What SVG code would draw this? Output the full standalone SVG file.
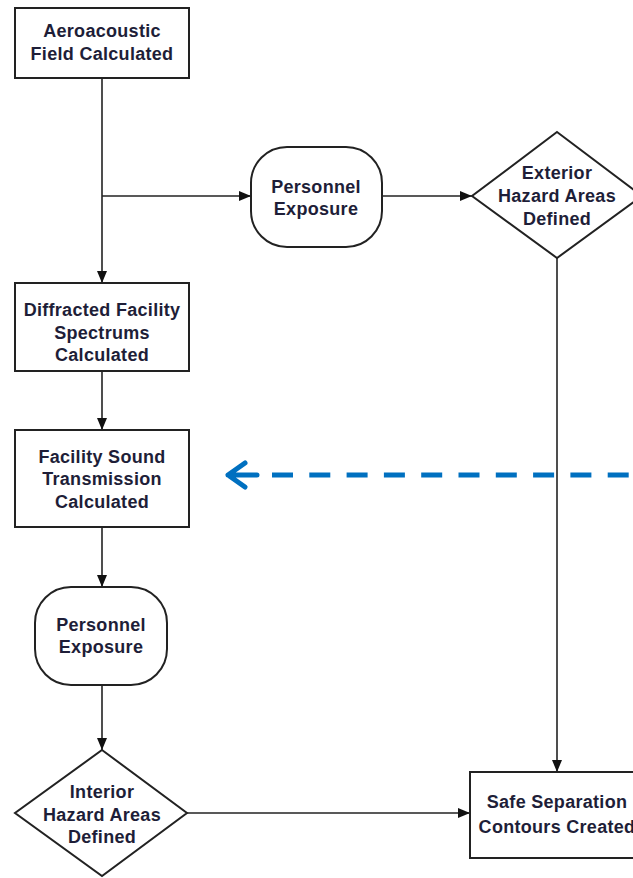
<svg xmlns="http://www.w3.org/2000/svg" width="633" height="878" viewBox="0 0 633 878">
<style>
.shape{fill:#fff;stroke:#222;stroke-width:2}
.t{font-family:"Liberation Sans",Arial,sans-serif;font-weight:bold;font-size:18px;fill:#1e1e38;text-anchor:middle;letter-spacing:0.3px}
.ln{fill:none;stroke:#222;stroke-width:1.6}
.blue{fill:none;stroke:#0070C0;stroke-width:5}
</style>
<defs>
<marker id="ah" markerWidth="12" markerHeight="10" refX="12" refY="5" orient="auto" markerUnits="userSpaceOnUse">
<path d="M0,0 L12,5 L0,10 Z" fill="#111"/>
</marker>
</defs>
<rect width="633" height="878" fill="#fff"/>
<g id="connectors">
<path class="ln" d="M102,78 V283" marker-end="url(#ah)"/>
<path class="ln" d="M102,196 H251" marker-end="url(#ah)"/>
<path class="ln" d="M382,196 H472" marker-end="url(#ah)"/>
<path class="ln" d="M557,258 V772" marker-end="url(#ah)"/>
<path class="ln" d="M102,371 V430" marker-end="url(#ah)"/>
<path class="ln" d="M102,527 V587" marker-end="url(#ah)"/>
<path class="ln" d="M102,685 V750" marker-end="url(#ah)"/>
<path class="ln" d="M187,813 H470" marker-end="url(#ah)"/>
<g id="feedback">
<path class="blue" d="M272,475 H640" stroke-dasharray="21 16.3"/>
<path class="blue" d="M245,463 L228,475 L245,487 M228,475 H257" stroke-linecap="round" stroke-linejoin="round"/>
</g>
</g>
<g id="n1"><rect class="shape" x="15" y="8" width="174" height="70"/>
<text class="t" x="102" y="36.5">Aeroacoustic</text><text class="t" x="102" y="59.5">Field Calculated</text></g>
<g id="n2"><rect class="shape" x="251" y="147" width="131" height="100" rx="36" ry="36"/>
<text class="t" x="316" y="193">Personnel</text><text class="t" x="316" y="215">Exposure</text></g>
<g id="n3"><path class="shape" d="M557,132 L642,196 L557,258 L472,196 Z"/>
<text class="t" x="557" y="179">Exterior</text><text class="t" x="557" y="202">Hazard Areas</text><text class="t" x="557" y="225">Defined</text></g>
<g id="n4"><rect class="shape" x="15" y="283" width="174" height="88"/>
<text class="t" x="102" y="316">Diffracted Facility</text><text class="t" x="102" y="339">Spectrums</text><text class="t" x="102" y="361">Calculated</text></g>
<g id="n5"><rect class="shape" x="15" y="430" width="174" height="97"/>
<text class="t" x="102" y="463">Facility Sound</text><text class="t" x="102" y="485">Transmission</text><text class="t" x="102" y="508">Calculated</text></g>
<g id="n6"><rect class="shape" x="35" y="587" width="132" height="98" rx="36" ry="36"/>
<text class="t" x="101" y="631">Personnel</text><text class="t" x="101" y="653">Exposure</text></g>
<g id="n7"><path class="shape" d="M102,750 L187,813 L102,876 L15,813 Z"/>
<text class="t" x="102" y="798">Interior</text><text class="t" x="102" y="821">Hazard Areas</text><text class="t" x="102" y="843">Defined</text></g>
<g id="n8"><rect class="shape" x="470" y="772" width="176" height="86"/>
<text class="t" x="557" y="808">Safe Separation</text><text class="t" x="557" y="833">Contours Created</text></g>
</svg>
